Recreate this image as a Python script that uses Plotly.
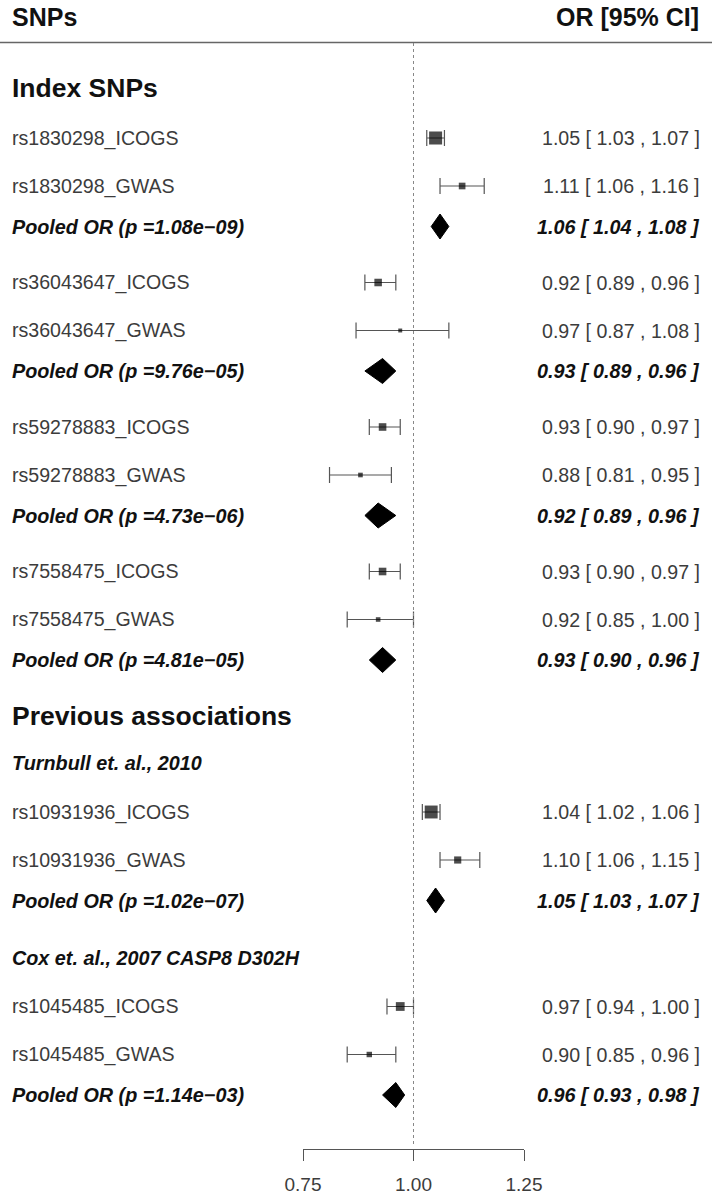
import math
import plotly.graph_objects as go

# ---------------- data ----------------
snp_ids = ["rs1830298", "rs36043647", "rs59278883", "rs7558475", "rs10931936", "rs1045485"]
icogs_or = [1.05, 0.92, 0.93, 0.93, 1.04, 0.97]
icogs_lo = [1.03, 0.89, 0.90, 0.90, 1.02, 0.94]
icogs_hi = [1.07, 0.96, 0.97, 0.97, 1.06, 1.00]
gwas_or = [1.11, 0.97, 0.88, 0.92, 1.10, 0.90]
gwas_lo = [1.06, 0.87, 0.81, 0.85, 1.06, 0.85]
gwas_hi = [1.16, 1.08, 0.95, 1.00, 1.15, 0.96]
pooled_or = [1.06, 0.93, 0.92, 0.93, 1.05, 0.96]
pooled_lo = [1.04, 0.89, 0.89, 0.90, 1.03, 0.93]
pooled_hi = [1.08, 0.96, 0.96, 0.96, 1.07, 0.98]
pooled_p = ["1.08e\u221209", "9.76e\u221205", "4.73e\u221206", "4.81e\u221205", "1.02e\u221207", "1.14e\u221203"]
section_titles = ["Index SNPs", "Previous associations"]
section_of_snp = [0, 0, 0, 0, 1, 1]
subtitle_of_snp = [None, None, None, None, "Turnbull et. al., 2010", "Cox et. al., 2007 CASP8 D302H"]
tick_vals = [0.75, 1.00, 1.25]
tick_text = ["0.75", "1.00", "1.25"]
col_titles = ["SNPs", "OR [95% CI]"]

# ---------------- layout geometry (pixels) ----------------
W, H = 712, 1199
PL, PR, PB = 303, 712 - 524, 1199 - 1149
PW = W - PL - PR
AX_Y = H - PB


def px(p):
    return (p - PL) / PW


FONT = "Liberation Sans, Arial, Helvetica, sans-serif"
REG = dict(family=FONT, size=19.6, color="#3c3c3c")
BOLD_IT = dict(family=FONT, size=19.8, color="#111111", weight="bold", style="italic")
SEC = dict(family=FONT, size=26.5, color="#111111", weight="bold")
HDR = dict(family=FONT, size=25, color="#111111", weight="bold")

# compute row positions with a cursor
rows = []  # (kind, idx, y)
y = 88
seen_sections = set()
first = True
for i, sid in enumerate(snp_ids):
    sec = section_of_snp[i]
    if sec not in seen_sections:
        if not first:
            y += 56
        rows.append(("section", sec, y))
        seen_sections.add(sec)
        first = False
        after_header = True
    else:
        after_header = False
    if subtitle_of_snp[i] is not None:
        if not after_header:
            y += 57
        else:
            y += 47
        rows.append(("subtitle", i, y))
        y += 49
    else:
        y += 50 if after_header else 56
    rows.append(("icogs", i, y))
    y += 48
    rows.append(("gwas", i, y))
    y += 40.5
    rows.append(("pooled", i, y))

annotations = []
box_x, box_y, box_ep, box_em, box_sz = [], [], [], [], []
dia_x, dia_y = [], []


def size_from_ci(lo, hi):
    w = math.log(hi) - math.log(lo)
    return 2.0 + 0.42 / w


for kind, i, yy in rows:
    if kind == "section":
        annotations.append(dict(text=section_titles[i], x=px(10), y=yy, font=SEC))
    elif kind == "subtitle":
        annotations.append(dict(text=subtitle_of_snp[i], x=px(10), y=yy, font=BOLD_IT))
    elif kind in ("icogs", "gwas"):
        est, lo, hi = ((icogs_or[i], icogs_lo[i], icogs_hi[i]) if kind == "icogs"
                       else (gwas_or[i], gwas_lo[i], gwas_hi[i]))
        lab = snp_ids[i] + ("_ICOGS" if kind == "icogs" else "_GWAS")
        annotations.append(dict(text=lab, x=px(10), y=yy, font=REG))
        annotations.append(dict(text=f"{est:.2f} [ {lo:.2f} , {hi:.2f} ]", x=px(702), y=yy,
                                xanchor="right", font=REG))
        box_x.append(est); box_y.append(yy)
        box_ep.append(hi - est); box_em.append(est - lo)
        box_sz.append(size_from_ci(lo, hi))
    else:
        est, lo, hi = pooled_or[i], pooled_lo[i], pooled_hi[i]
        annotations.append(dict(text=f"Pooled OR (p ={pooled_p[i]})", x=px(10), y=yy, font=BOLD_IT))
        annotations.append(dict(text=f"{est:.2f} [ {lo:.2f} , {hi:.2f} ]", x=px(702), y=yy,
                                xanchor="right", font=BOLD_IT))
        dia_x += [lo, est, hi, est, lo, None]
        dia_y += [yy, yy - 12.5, yy, yy + 12.5, yy, None]

for a in annotations:
    a.setdefault("xanchor", "left")
    a.update(xref="paper", yref="y", yanchor="middle", showarrow=False)

# column headers
annotations.append(dict(text=col_titles[0], x=px(10), y=17, xref="paper", yref="y",
                        xanchor="left", yanchor="middle", showarrow=False, font=HDR))
annotations.append(dict(text=col_titles[1], x=px(701), y=17, xref="paper", yref="y",
                        xanchor="right", yanchor="middle", showarrow=False, font=HDR))

fig = go.Figure()
# confidence-interval whiskers (drawn first, beneath the boxes)
fig.add_trace(go.Scatter(
    x=box_x, y=box_y, mode="markers",
    marker=dict(size=1, color="rgba(0,0,0,0)"),
    error_x=dict(type="data", symmetric=False, array=box_ep, arrayminus=box_em,
                 color="#555555", thickness=1.2, width=8),
    hoverinfo="skip", cliponaxis=False, showlegend=False))
# study boxes
fig.add_trace(go.Scatter(
    x=box_x, y=box_y, mode="markers",
    marker=dict(symbol="square", color="black", size=box_sz, line=dict(width=0)),
    hoverinfo="skip", cliponaxis=False, showlegend=False))
# pooled diamonds
fig.add_trace(go.Scatter(
    x=dia_x, y=dia_y, mode="lines", fill="toself", fillcolor="black",
    line=dict(color="black", width=1), hoverinfo="skip", showlegend=False))

shapes = [
    dict(type="line", xref="paper", yref="y", x0=px(0), x1=px(W), y0=42.5, y1=42.5,
         line=dict(color="#666666", width=1.5)),
    dict(type="line", xref="x", yref="y", x0=1.0, x1=1.0, y0=43, y1=AX_Y - 4,
         line=dict(color="#888888", width=1, dash="dot")),
]

fig.update_layout(
    width=W, height=H,
    margin=dict(l=PL, r=PR, t=0, b=PB, pad=0),
    plot_bgcolor="white", paper_bgcolor="white",
    showlegend=False,
    shapes=shapes,
    annotations=annotations,
    xaxis=dict(range=[0.75, 1.25], showgrid=False, zeroline=False, showline=True,
               linecolor="#555555", linewidth=1, ticks="outside", ticklen=11,
               tickcolor="#555555", tickwidth=1, tickvals=tick_vals, ticktext=tick_text,
               tickfont=dict(family=FONT, size=19, color="#3c3c3c"),
               ticklabelstandoff=7, fixedrange=True),
    yaxis=dict(range=[AX_Y, 0], visible=False, showgrid=False, zeroline=False,
               fixedrange=True),
)

fig.write_html("out.html", config={"displayModeBar": False},
               post_script="document.body.style.margin='0';document.body.style.overflow='hidden';")
